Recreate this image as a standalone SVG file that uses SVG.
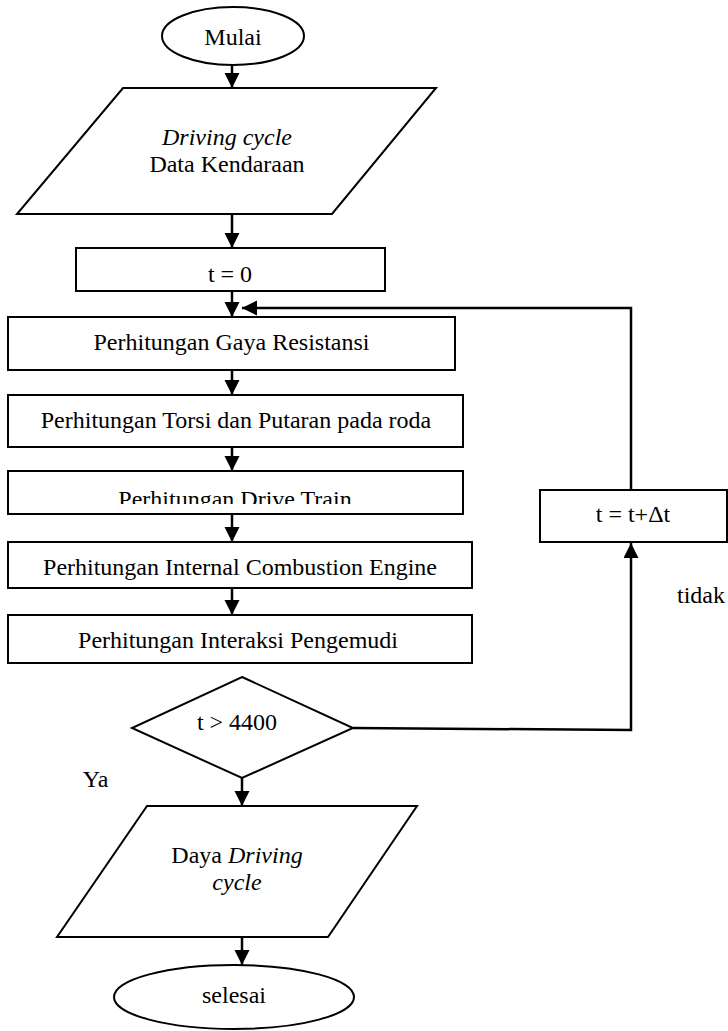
<svg xmlns="http://www.w3.org/2000/svg" width="728" height="1031" viewBox="0 0 728 1031">
<style>
.s{fill:#fff;stroke:#000;stroke-width:2}
.t{font-family:"Liberation Serif","Times New Roman",serif;font-size:24px;fill:#000;text-anchor:middle}
.c{fill:none;stroke:#000;stroke-width:2.5}
</style>
<defs>
<marker id="ah" markerUnits="userSpaceOnUse" markerWidth="16" markerHeight="16" refX="15" refY="7.5" orient="auto">
<path d="M0,0 L15,7.5 L0,15 z" fill="#000"/>
</marker>
<clipPath id="clip3"><rect x="8" y="471" width="455" height="33"/></clipPath>
</defs>
<rect width="728" height="1031" fill="#fff"/>
<g id="connectors">
<path class="c" d="M232,65 V88" marker-end="url(#ah)"/>
<path class="c" d="M232,214 V248" marker-end="url(#ah)"/>
<path class="c" d="M232,291 V317" marker-end="url(#ah)"/>
<path class="c" d="M232,370 V395" marker-end="url(#ah)"/>
<path class="c" d="M232,447 V471" marker-end="url(#ah)"/>
<path class="c" d="M232,514 V542" marker-end="url(#ah)"/>
<path class="c" d="M232,588 V615" marker-end="url(#ah)"/>
<path class="c" d="M242,778 V806" marker-end="url(#ah)"/>
<path class="c" d="M242,937 V965" marker-end="url(#ah)"/>
<path class="c" d="M353,728 L631,730 V543" marker-end="url(#ah)"/>
<path class="c" d="M631,490 V308 H242" marker-end="url(#ah)"/>
</g>
<g id="mulai">
<ellipse class="s" cx="233" cy="36" rx="71" ry="29"/>
<text class="t" x="233" y="45">Mulai</text>
</g>
<g id="input">
<polygon class="s" points="123,88 436,88 332,214 17,214"/>
<text class="t" x="227" y="145" font-style="italic">Driving cycle</text>
<text class="t" x="227" y="172">Data Kendaraan</text>
</g>
<g id="init">
<rect class="s" x="76" y="248" width="309" height="43"/>
<text class="t" x="230" y="282">t = 0</text>
</g>
<g id="resistansi">
<rect class="s" x="8" y="317" width="447" height="53"/>
<text class="t" x="231.5" y="350">Perhitungan Gaya Resistansi</text>
</g>
<g id="torsi">
<rect class="s" x="8" y="395" width="455" height="52"/>
<text class="t" x="236" y="428">Perhitungan Torsi dan Putaran pada roda</text>
</g>
<g id="drivetrain">
<rect class="s" x="8" y="471" width="455" height="43"/>
<text class="t" x="235" y="507" clip-path="url(#clip3)">Perhitungan Drive Train</text>
</g>
<g id="ice">
<rect class="s" x="8" y="542" width="464" height="46"/>
<text class="t" x="240" y="575">Perhitungan Internal Combustion Engine</text>
</g>
<g id="pengemudi">
<rect class="s" x="8" y="615" width="464" height="48"/>
<text class="t" x="238" y="648">Perhitungan Interaksi Pengemudi</text>
</g>
<g id="decision">
<polygon class="s" points="242,677 353,728 242,778 132,728"/>
<text class="t" x="237" y="730">t &gt; 4400</text>
</g>
<g id="increment">
<rect class="s" x="540" y="490" width="187" height="52"/>
<text class="t" x="633" y="522">t = t+Δt</text>
</g>
<g id="labels">
<text class="t" x="701" y="603">tidak</text>
<text class="t" x="95.5" y="787">Ya</text>
</g>
<g id="output">
<polygon class="s" points="147,806 417,806 328,937 57,937"/>
<text class="t" x="237" y="863">Daya <tspan font-style="italic">Driving</tspan></text>
<text class="t" x="237" y="890" font-style="italic">cycle</text>
</g>
<g id="selesai">
<ellipse class="s" cx="234" cy="997" rx="120" ry="32"/>
<text class="t" x="234" y="1003">selesai</text>
</g>
</svg>
